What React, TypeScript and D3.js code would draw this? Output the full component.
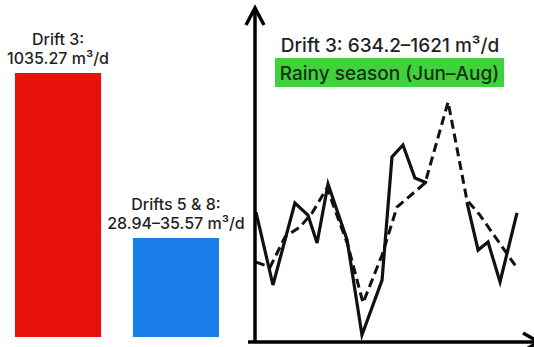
import React from "react";
import * as d3 from "d3";

// ---- Data ----
const barCategories = ["Drift 3", "Drifts 5 & 8"];
const barValues = [1035.27, 35.57];
const barLabelLine1 = ["Drift 3:", "Drifts 5 & 8:"];
const barLabelLine2 = ["1035.27 m³/d", "28.94–35.57 m³/d"];
const barColors = ["#e8120c", "#1a7ee8"];

// Line chart (Drift 3 daily inflow, schematic time axis 0–100)
const solidX = [0, 6.5, 14.9, 19.9, 23.4, 27.6, 34.9, 40.6, 48.3, 52.1, 56.3, 60.9, 65.5, 73.6, 80.8, 85.1, 88.9, 93.5, 100];
const solidY = [1155, 846, 1193, 1142, 1024, 1274, 1037, 634.2, 867, 1388, 1439, 1299, 1278, null, 1197, 994, 1028, 859, 1151];
const dashedX = [0, 5.4, 11.1, 16.9, 21.5, 27.2, 35.2, 41.0, 48.3, 54.0, 64.8, 73.6, 80.8, 85.8, 100];
const dashedY = [943, 922, 1049, 1092, 1151, 1257, 1015, 770, 973, 1176, 1278, 1621, 1206, 1142, 918];
const lineTitle = "Drift 3: 634.2–1621 m³/d";
const seasonLabel = "Rainy season (Jun–Aug)";

const W = 534;
const H = 347;
const FONT = "Inter, 'Noto Sans', sans-serif";
const TEXT = "#1f1f1f";

export default function App() {
  const xBand = d3.scaleBand<string>().domain(barCategories).range([15, 219]).paddingInner(0.27).paddingOuter(0);
  const yBar = d3.scaleLog().domain([4.71, 1035.27]).range([337, 73]);

  const x = d3.scaleLinear().domain([0, 100]).range([256, 517]);
  const y = d3.scaleLinear().domain([634.2, 1621]).range([335, 102]);

  const solidData = solidX.map((v, i) => ({ x: v, y: solidY[i] }));
  const dashedData = dashedX.map((v, i) => ({ x: v, y: dashedY[i] }));
  const line = d3
    .line<{ x: number; y: number | null }>()
    .defined((d) => d.y !== null)
    .x((d) => x(d.x))
    .y((d) => y(d.y as number));

  const axisX = 255;
  const axisY = 342;

  return (
    <svg width={W} height={H} style={{ position: "absolute", left: 0, top: 0, background: "#fff" }}>
      {/* Bars */}
      {barCategories.map((c, i) => {
        const bx = xBand(c) as number;
        const bw = xBand.bandwidth();
        const top = yBar(barValues[i]);
        const cx = bx + bw / 2;
        return (
          <g key={c}>
            <rect x={bx} y={top} width={bw} height={337 - top} fill={barColors[i]} />
            <text x={cx} y={top - 28} textAnchor="middle" fontFamily={FONT} fontSize={16} fontWeight={500} fill={TEXT}>
              {barLabelLine1[i]}
            </text>
            <text x={cx} y={top - 9} textAnchor="middle" fontFamily={FONT} fontSize={16} fontWeight={500} fill={TEXT}>
              {barLabelLine2[i]}
            </text>
          </g>
        );
      })}

      {/* Lines */}
      <path d={line(solidData) || ""} fill="none" stroke="#111" strokeWidth={3.2} strokeLinejoin="miter" />
      <path d={line(dashedData) || ""} fill="none" stroke="#111" strokeWidth={3} strokeDasharray="9 5" strokeLinejoin="miter" />

      {/* Axes */}
      <line x1={axisX} y1={axisY + 1} x2={axisX} y2={8} stroke="#000" strokeWidth={3.5} />
      <polyline points={`${axisX - 9},${25} ${axisX},${8} ${axisX + 9},${25}`} fill="none" stroke="#000" strokeWidth={3.5} />
      <line x1={248} y1={axisY} x2={538} y2={axisY} stroke="#000" strokeWidth={3.5} />
      <polyline points={`${523},${axisY - 9} ${539},${axisY} ${523},${axisY + 9}`} fill="none" stroke="#000" strokeWidth={3.5} />

      {/* Title & season label */}
      <text x={390} y={52} textAnchor="middle" fontFamily={FONT} fontSize={19} fontWeight={500} fill={TEXT}>
        {lineTitle}
      </text>
      <rect x={275} y={58} width={229} height={29} fill="#3fd23a" />
      <text x={389.5} y={80} textAnchor="middle" fontFamily={FONT} fontSize={19} fontWeight={500} fill="#17301a">
        {seasonLabel}
      </text>
    </svg>
  );
}
